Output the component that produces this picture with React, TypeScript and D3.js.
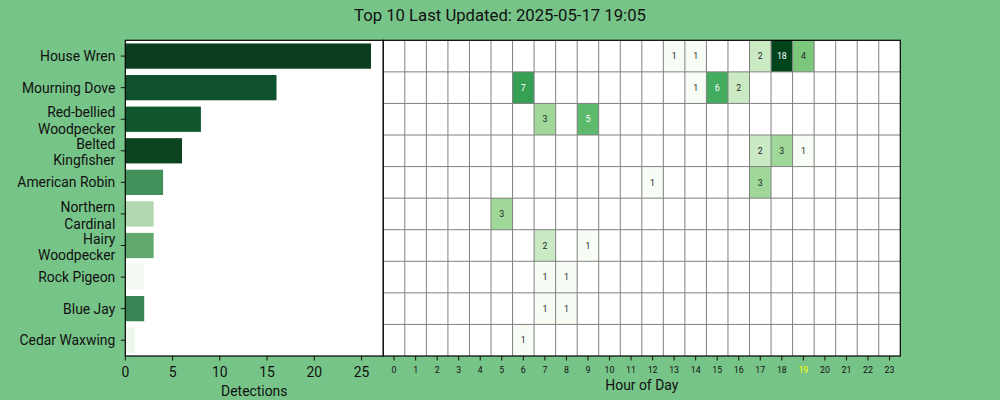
import * as d3 from "d3";

const species = [
  "House Wren",
  "Mourning Dove",
  "Red-bellied Woodpecker",
  "Belted Kingfisher",
  "American Robin",
  "Northern Cardinal",
  "Hairy Woodpecker",
  "Rock Pigeon",
  "Blue Jay",
  "Cedar Waxwing",
];

const totals = [26, 16, 8, 6, 4, 3, 3, 2, 2, 1];

// seaborn palette colours
const barColors = [
  "#0b3d20",
  "#0f512c",
  "#0f562c",
  "#0c4420",
  "#43915a",
  "#b2d8b0",
  "#62a970",
  "#f4faf2",
  "#3a8453",
  "#ecf6ea",
];

const hours = ["0", "1", "2", "3", "4", "5", "6", "7", "8", "9", "10", "11", "12", "13", "14", "15", "16", "17", "18", "19", "20", "21", "22", "23"];
const currentHour = "19";

// [species index, hour, count]
const hourly: [number, number, number][] = [
  [0, 13, 1], [0, 14, 1], [0, 17, 2], [0, 18, 18], [0, 19, 4],
  [1, 6, 7], [1, 14, 1], [1, 15, 6], [1, 16, 2],
  [2, 7, 3], [2, 9, 5],
  [3, 17, 2], [3, 18, 3], [3, 19, 1],
  [4, 12, 1], [4, 17, 3],
  [5, 5, 3],
  [6, 7, 2], [6, 9, 1],
  [7, 7, 1], [7, 8, 1],
  [8, 7, 1], [8, 8, 1],
  [9, 6, 1],
];

const xTicks = [0, 5, 10, 15, 20, 25];

const greens = ["#f7fcf5", "#e5f5e0", "#c7e9c0", "#a1d99b", "#74c476", "#41ab5d", "#238b45", "#006d2c", "#00441b"];

const W = 1000;
const H = 400;
const top = 40.3;
const bottom = 356;
const barLeft = 125.3;
const split = 383.3;
const heatRight = 900.3;
const FONT = "Roboto, sans-serif";
const INK = "#111";
const LABEL = 13.9;

function T({ x, y, size, anchor = "middle", fill = INK, children }: any) {
  return (
    <text x={x} y={y} fontSize={size} fontFamily={FONT} textAnchor={anchor} fill={fill}>
      {children}
    </text>
  );
}

// break long names onto two lines, like textwrap at 15 chars
function wrap(s: string): string[] {
  if (s.length <= 15) return [s];
  const words = s.split(" ");
  return [words[0], words.slice(1).join(" ")];
}

export default function App() {
  const x = d3.scaleLinear().domain([0, d3.max(totals)! * 1.05]).range([barLeft, split]);
  const y = d3.scaleBand<string>().domain(species).range([top, bottom]).paddingInner(0.2).paddingOuter(0.1);
  const rows = d3.scaleBand<string>().domain(species).range([top, bottom]);
  const cols = d3.scaleBand<string>().domain(hours).range([split, heatRight]);

  const maxCount = d3.max(hourly, (d) => d[2])!;
  const norm = d3.scaleLog().domain([1, maxCount]).range([0, 1]).clamp(true);
  const cmap = d3
    .scaleLinear<string>()
    .domain(greens.map((_, i) => i / (greens.length - 1)))
    .range(greens)
    .interpolate(d3.interpolateRgb);

  const rowCenter = (s: string) => rows(s)! + rows.bandwidth() / 2;

  return (
    <svg width={W} height={H} style={{ position: "absolute", left: 0, top: 0 }}>
      <rect width={W} height={H} fill="#77c488" />

      <T x={500} y={21} size={16.7}>
        Top 10 Last Updated: 2025-05-17 19:05
      </T>

      {/* bar panel */}
      <rect x={barLeft} y={top} width={split - barLeft} height={bottom - top} fill="#fff" />
      {species.map((s, i) => (
        <rect
          key={s}
          x={x(0)}
          y={y(s)}
          width={x(totals[i]) - x(0)}
          height={y.bandwidth()}
          fill={barColors[i]}
        />
      ))}
      {species.map((s) => {
        const c = rowCenter(s);
        const lines = wrap(s);
        return (
          <g key={s}>
            <line x1={barLeft - 4.5} x2={barLeft} y1={c} y2={c} stroke={INK} strokeWidth={1} />
            {lines.length > 1 ? (
              <>
                <T x={barLeft - 10} y={c - 1.8} size={LABEL} anchor="end">
                  {lines[0]}
                </T>
                <T x={barLeft - 10} y={c + 14.6} size={LABEL} anchor="end">
                  {lines[1]}
                </T>
              </>
            ) : (
              <T x={barLeft - 10} y={c + 5.1} size={LABEL} anchor="end">
                {s}
              </T>
            )}
          </g>
        );
      })}
      {xTicks.map((t) => (
        <g key={t}>
          <line x1={x(t)} x2={x(t)} y1={bottom} y2={bottom + 4.5} stroke={INK} />
          <T x={x(t)} y={376.5} size={LABEL}>
            {t}
          </T>
        </g>
      ))}
      <T x={(barLeft + split) / 2} y={395.5} size={LABEL}>
        Detections
      </T>
      <rect x={barLeft} y={top} width={split - barLeft} height={bottom - top} fill="none" stroke="#000" strokeWidth={1.2} />

      {/* heatmap panel */}
      <rect x={split} y={top} width={heatRight - split} height={bottom - top} fill="#fff" />
      {hourly.map(([si, h, v]) => (
        <rect
          key={`${si}-${h}`}
          x={cols(hours[h])}
          y={rows(species[si])}
          width={cols.bandwidth()}
          height={rows.bandwidth()}
          fill={cmap(norm(v))}
        />
      ))}
      {hours.slice(1).map((h) => (
        <line key={h} x1={cols(h)} x2={cols(h)} y1={top} y2={bottom} stroke="#808080" strokeWidth={1} />
      ))}
      {species.slice(1).map((s) => (
        <line key={s} x1={split} x2={heatRight} y1={rows(s)} y2={rows(s)} stroke="#808080" strokeWidth={1} />
      ))}
      {hourly.map(([si, h, v]) => (
        <T
          key={`t${si}-${h}`}
          x={cols(hours[h])! + cols.bandwidth() / 2}
          y={rowCenter(species[si]) + 3.2}
          size={8.8}
          fill={norm(v) > 0.5 ? "#fff" : "#262626"}
        >
          {v}
        </T>
      ))}
      <rect x={split} y={top} width={heatRight - split} height={bottom - top} fill="none" stroke="#000" strokeWidth={1.2} />
      {hours.map((h) => {
        const cx = cols(h)! + cols.bandwidth() / 2;
        return (
          <g key={h}>
            <line x1={cx} x2={cx} y1={bottom} y2={bottom + 4.5} stroke={INK} />
            <T x={cx} y={373.3} size={8.8} fill={h === currentHour ? "#ffff00" : INK}>
              {h}
            </T>
          </g>
        );
      })}
      <T x={(split + heatRight) / 2} y={390} size={LABEL}>
        Hour of Day
      </T>
    </svg>
  );
}
